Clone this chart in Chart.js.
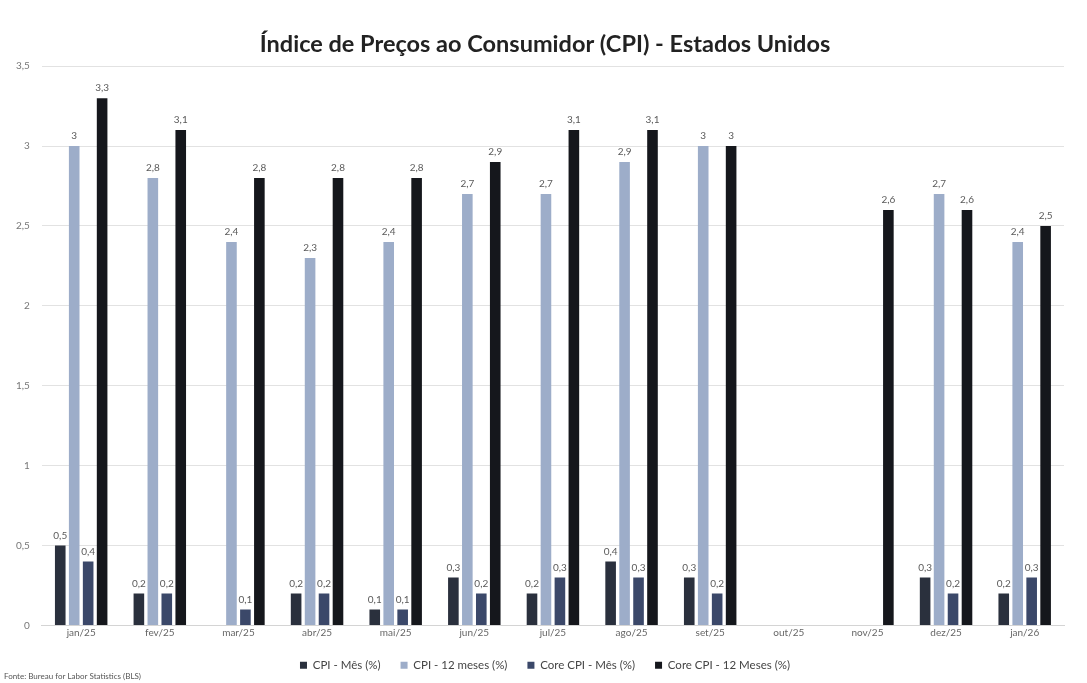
<!doctype html>
<html lang="pt">
<head>
<meta charset="UTF-8" />
<title>CPI - Estados Unidos</title>
<script src="https://cdn.jsdelivr.net/npm/chart.js"></script>
<style>
  html, body { margin: 0; padding: 0; background: #ffffff; }
  #wrap { width: 1087px; height: 683px; position: relative; }
</style>
</head>
<body>
<div id="wrap">
  <canvas id="cpiChart"></canvas>
</div>
<script>
  // dados
  const meses = ['jan/25', 'fev/25', 'mar/25', 'abr/25', 'mai/25', 'jun/25', 'jul/25',
                 'ago/25', 'set/25', 'out/25', 'nov/25', 'dez/25', 'jan/26'];
  const cpiMes = [0.5, 0.2, null, 0.2, 0.1, 0.3, 0.2, 0.4, 0.3, null, null, 0.3, 0.2];
  const cpi12 = [3, 2.8, 2.4, 2.3, 2.4, 2.7, 2.7, 2.9, 3, null, null, 2.7, 2.4];
  const coreMes = [0.4, 0.2, 0.1, 0.2, 0.1, 0.2, 0.3, 0.3, 0.2, null, null, 0.2, 0.3];
  const core12 = [3.3, 3.1, 2.8, 2.8, 2.8, 2.9, 3.1, 3.1, 3, null, 2.6, 2.6, 2.5];

  const fmt = v => String(v).replace('.', ',');
  const fonte = 'Lato, "Liberation Sans", sans-serif';

  // rotulos de valor acima das barras
  const valueLabels = {
    id: 'valueLabels',
    afterDatasetsDraw(chart) {
      const c = chart.ctx;
      c.save();
      c.font = '10px ' + fonte;
      c.fillStyle = '#5a5a5a';
      c.textAlign = 'center';
      c.textBaseline = 'bottom';
      chart.data.datasets.forEach((ds, i) => {
        const meta = chart.getDatasetMeta(i);
        meta.data.forEach((bar, j) => {
          const v = ds.data[j];
          if (v === null || v === undefined) return;
          c.fillText(fmt(v), bar.x, bar.y - 5);
        });
      });
      c.restore();
    }
  };

  const ctx = document.getElementById('cpiChart');

  new Chart(ctx, {
    type: 'bar',
    data: {
      labels: meses,
      datasets: [
        { label: 'CPI - Mês (%)', data: cpiMes, backgroundColor: '#2a303d' },
        { label: 'CPI - 12 meses (%)', data: cpi12, backgroundColor: '#9dadc9' },
        { label: 'Core CPI - Mês (%)', data: coreMes, backgroundColor: '#3b4869' },
        { label: 'Core CPI - 12 Meses (%)', data: core12, backgroundColor: '#15171c' }
      ]
    },
    options: {
      responsive: true,
      maintainAspectRatio: false,
      animation: false,
      datasets: {
        bar: { barPercentage: 0.76, categoryPercentage: 0.71 }
      },
      layout: { padding: { left: 4, right: 1, top: 30, bottom: 0 } },
      scales: {
        x: {
          grid: { display: false, drawTicks: false },
          border: { display: true, color: '#d4d4d4' },
          ticks: { color: '#666', font: { size: 10, family: fonte }, padding: 1 }
        },
        y: {
          min: 0,
          max: 3.5,
          ticks: {
            stepSize: 0.5,
            color: '#777',
            padding: 12,
            font: { size: 10, family: fonte },
            callback: v => fmt(v)
          },
          grid: { color: '#e2e2e2', drawTicks: false },
          border: { display: false }
        },
        // eixo vazio a direita, so para reservar margem
        yR: {
          position: 'right',
          grid: { display: false, drawTicks: false },
          border: { display: false },
          ticks: { display: false },
          afterFit: s => { s.width = 22; }
        }
      },
      plugins: {
        title: {
          display: true,
          text: 'Índice de Preços ao Consumidor (CPI) - Estados Unidos',
          color: '#222',
          font: { size: 23.5, weight: 'bold', family: fonte },
          padding: { top: 0, bottom: 8 }
        },
        subtitle: {
          display: true,
          position: 'bottom',
          align: 'start',
          text: 'Fonte: Bureau for Labor Statistics (BLS)',
          color: '#555',
          font: { size: 8, family: fonte },
          padding: { top: 0, bottom: 2 }
        },
        legend: {
          position: 'bottom',
          maxHeight: 32,
          labels: {
            boxWidth: 7,
            boxHeight: 7,
            padding: 20,
            color: '#444',
            font: { size: 11.5, family: fonte }
          }
        },
        tooltip: { enabled: false }
      }
    },
    plugins: [valueLabels]
  });
</script>
</body>
</html>
